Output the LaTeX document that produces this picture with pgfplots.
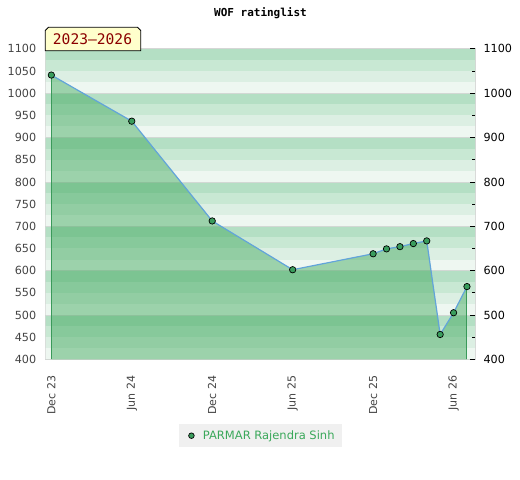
\documentclass[border=0pt]{standalone}
\usepackage{fontspec}
\setmainfont{DejaVu Sans}
\newfontfamily\monofont{DejaVu Sans Mono}
\usepackage{pgfplots}
\pgfplotsset{compat=1.18}
\definecolor{sA}{HTML}{B4DFC4}
\definecolor{sB}{HTML}{C8E8D3}
\definecolor{sC}{HTML}{DCEFE3}
\definecolor{sD}{HTML}{EEF7F1}
\definecolor{fillgreen}{HTML}{3AA557}
\definecolor{edgegreen}{HTML}{3A9A5A}
\definecolor{markgreen}{HTML}{3A9D5D}
\definecolor{lineblue}{HTML}{62A4DA}
\definecolor{legendgreen}{HTML}{3AA85A}
\definecolor{legendbg}{HTML}{F0F0F0}
\definecolor{ticklabelgray}{HTML}{444444}
\definecolor{bordergray}{HTML}{D6D6D6}
\definecolor{gridgray}{HTML}{D2D8D4}
\definecolor{boxyellow}{HTML}{FFFFCC}
\definecolor{boxred}{HTML}{8B0000}
\pgfplotstableread{
x y
0 1041
6 937
12 712
18 602
24 638
25 649
26 654
27 661
28 667
29 456
30 505
31 564
}\ratings
\begin{document}
\begin{tikzpicture}[x=1bp,y=1bp]
\begin{axis}[
  scale only axis, width=429.3bp, height=310.4bp,
  xmin=-0.42, xmax=31.6, ymin=400, ymax=1100,
  xtick={0,6,12,18,24,30},
  xticklabels={Dec 23,Jun 24,Dec 24,Jun 25,Dec 25,Jun 26},
  ytick={400,450,...,1100},
  tick style={draw=none},
  axis line style={draw=bordergray, line width=1bp},
  /pgf/number format/assume math mode=true,
  /pgf/number format/1000 sep={},
  xticklabel style={rotate=90, anchor=east, text=ticklabelgray, font=\fontsize{11bp}{12bp}\selectfont},
  yticklabel style={anchor=east, text=ticklabelgray, font=\fontsize{11.2bp}{12bp}\selectfont},
  xticklabel shift=13bp,
  yticklabel shift=6bp,
  legend style={at={(0.5003,-0.2461)}, anchor=center, fill=legendbg, draw=none,
    font=\fontsize{11.5bp}{13bp}\selectfont, text=legendgreen,
    inner xsep=5bp, inner ysep=4.5bp},
  legend image code/.code={\path[draw=none, fill=none] (0bp,0) -- (16.5bp,0);
    \draw[fill=markgreen, draw=black, line width=0.7bp] (7bp,0) circle (2.8bp);},
]
\coordinate (LL) at (rel axis cs:0,0);
\pgfplotsinvokeforeach{400,500,600,700,800,900,1000}{
  \fill[sD] (axis cs:-1,#1) rectangle (axis cs:40,#1+25);
  \fill[sC] (axis cs:-1,#1+25) rectangle (axis cs:40,#1+50);
  \fill[sB] (axis cs:-1,#1+50) rectangle (axis cs:40,#1+75);
  \fill[sA] (axis cs:-1,#1+75) rectangle (axis cs:40,#1+100);
  \draw[gridgray, line width=0.7bp] (axis cs:-1,#1) -- (axis cs:40,#1);
}
\addplot[draw=none, fill=fillgreen, fill opacity=0.45, forget plot] table[x=x,y=y] {\ratings} \closedcycle;
\addplot[edgegreen, line width=1bp, forget plot] coordinates {(0,400) (0,1041)};
\addplot[edgegreen, line width=1bp, forget plot] coordinates {(31,400) (31,564)};
\addplot[lineblue, line width=1.2bp, mark=*, mark size=3.2bp,
  mark options={fill=markgreen, draw=black, line width=0.7bp}] table[x=x,y=y] {\ratings};
\addlegendentry{PARMAR Rajendra Sinh}
\end{axis}
\begin{axis}[
  scale only axis, width=429.3bp, height=310.4bp,
  xmin=-0.42, xmax=31.6, ymin=400, ymax=1100,
  xtick=\empty,
  ytick={400,500,...,1100},
  minor ytick={450,550,...,1050},
  ytick pos=right, yticklabel pos=right,
  tick align=inside,
  major tick length=5bp, minor tick length=3bp,
  tick style={black, line width=0.8bp},
  axis line style={draw=none},
  /pgf/number format/assume math mode=true,
  /pgf/number format/1000 sep={},
  yticklabel style={anchor=west, text=black, font=\fontsize{11.2bp}{12bp}\selectfont},
  yticklabel shift=5bp,
]
\end{axis}
\pgfresetboundingbox
\begin{scope}[shift={(LL)}, shift={(-45.7,-120.7)}]
\path[use as bounding box] (0,0) rectangle (520,480);
\node[font=\monofont\bfseries\fontsize{11bp}{13bp}\selectfont] at (260.5,467) {WOF ratinglist};
\filldraw[fill=boxyellow, draw=black, line width=0.8bp]
  (45.3,429.3) -- (45.3,449.5) -- (48.5,452.7) -- (137.5,452.7) -- (140.7,449.5) -- (140.7,429.3) -- cycle;
\node[font=\monofont\fontsize{14.6bp}{16bp}\selectfont, text=boxred] at (92.5,440.5) {2023\textendash 2026};
\end{scope}
\end{tikzpicture}
\end{document}
